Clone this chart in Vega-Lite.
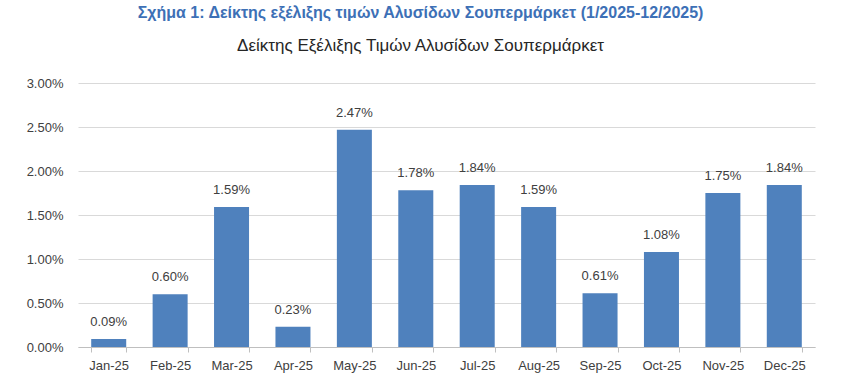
{
  "$schema": "https://vega.github.io/schema/vega-lite/v6.json",
  "width": 737,
  "height": 264,
  "autosize": {"type": "none"},
  "padding": {"left": 78, "top": 83, "right": 34, "bottom": 42},
  "background": "white",
  "config": {
    "font": "Liberation Sans",
    "view": {"stroke": null}
  },
  "title": {
    "text": "Σχήμα 1: Δείκτης εξέλιξης τιμών Αλυσίδων Σουπερμάρκετ (1/2025-12/2025)",
    "subtitle": "Δείκτης Εξέλιξης Τιμών Αλυσίδων Σουπερμάρκετ",
    "anchor": "middle",
    "frame": "bounds",
    "font": "Liberation Sans Narrow, Liberation Sans",
    "fontSize": 16,
    "fontWeight": "bold",
    "color": "#3d70b6",
    "subtitleFont": "Liberation Sans",
    "subtitleFontSize": 17,
    "subtitleColor": "#262626",
    "subtitlePadding": 17,
    "offset": 23
  },
  "data": {
    "values": [
      {"month": "Jan-25", "value": 0.0009},
      {"month": "Feb-25", "value": 0.0060},
      {"month": "Mar-25", "value": 0.0159},
      {"month": "Apr-25", "value": 0.0023},
      {"month": "May-25", "value": 0.0247},
      {"month": "Jun-25", "value": 0.0178},
      {"month": "Jul-25", "value": 0.0184},
      {"month": "Aug-25", "value": 0.0159},
      {"month": "Sep-25", "value": 0.0061},
      {"month": "Oct-25", "value": 0.0108},
      {"month": "Nov-25", "value": 0.0175},
      {"month": "Dec-25", "value": 0.0184}
    ]
  },
  "encoding": {
    "x": {
      "field": "month",
      "type": "nominal",
      "sort": null,
      "title": null,
      "scale": {"paddingInner": 0.43, "paddingOuter": 0.215},
      "axis": {
        "labelAngle": 0,
        "labelFontSize": 13,
        "labelColor": "#404040",
        "domainColor": "#bfbfbf",
        "tickColor": "#bfbfbf",
        "tickBand": "extent",
        "tickSize": 5,
        "labelPadding": 7
      }
    },
    "y": {
      "field": "value",
      "type": "quantitative",
      "title": null,
      "scale": {"domain": [0, 0.03], "nice": false},
      "axis": {
        "values": [0, 0.005, 0.01, 0.015, 0.02, 0.025, 0.03],
        "format": ".2%",
        "labelFontSize": 13,
        "labelColor": "#404040",
        "gridColor": "#d9d9d9",
        "domain": false,
        "ticks": false,
        "labelPadding": 15
      }
    }
  },
  "layer": [
    {"mark": {"type": "bar", "color": "#4f81bd"}},
    {
      "mark": {"type": "text", "baseline": "middle", "dy": -17, "fontSize": 13, "color": "#404040"},
      "encoding": {"text": {"field": "value", "type": "quantitative", "format": ".2%"}}
    }
  ]
}
